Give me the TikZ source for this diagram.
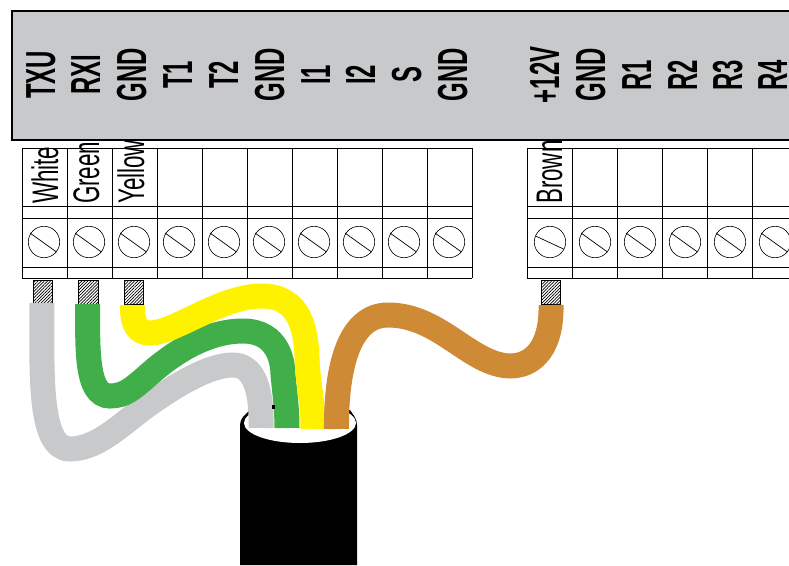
\documentclass[tikz,border=0pt]{standalone}
\usepackage{fontspec}
\setmainfont{Liberation Sans}
\usetikzlibrary{patterns.meta}
\definecolor{panelgray}{HTML}{C8C9CB}
\definecolor{wirewhite}{HTML}{C8C9CB}
\definecolor{wiregreen}{HTML}{40AE49}
\definecolor{wireyellow}{HTML}{FFF200}
\definecolor{wirebrown}{HTML}{CF8A36}
\tikzset{
	pinlabel/.style={rotate=90,xscale=0.57,anchor=base,inner sep=0pt,font=\fontsize{42}{42}\selectfont\bfseries},
	wirelabel/.style={rotate=90,xscale=0.605,anchor=base west,inner sep=0pt,font=\fontsize{37}{37}\selectfont},
	grid line/.style={black,line width=0.8pt},
	strand/.style={pattern={Lines[angle=45,distance=2.2pt,line width=0.7pt]},draw=black,line width=0.7pt},
	wire/.style={line width=25pt}
}
\begin{document}
\begin{tikzpicture}[x=1pt,y=-1pt]
	\clip (0,0) rectangle (789,565);
	% wire names, drawn first so that the panel cuts them
	\node[wirelabel] (white) at (58,204) {White};
	\node[wirelabel] (green) at (99,204) {Green};
	\node[wirelabel] (yellow) at (144,204) {Yellow};
	\node[wirelabel] (brown) at (562,204) {Brown};
	% terminal blocks
	\foreach \y in {148,206,218,267,278}{
		\draw[grid line] (22,\y) -- (472,\y);
		\draw[grid line] (527,\y) -- (800,\y);
	}
	\foreach \x in {22,67,...,472}
		\draw[grid line] (\x,148) -- (\x,278);
	\foreach \x in {527,572,...,797}
		\draw[grid line] (\x,148) -- (\x,278);
	% screws
	\foreach \x in {44,89,...,449,595,640,...,775}{
		\draw[black,line width=0.6pt] (\x,242) circle (15.7);
		\draw[black,line width=0.7pt] (\x-14,233) -- (\x+12.5,252);
	}
	\draw[black,line width=0.6pt] (550,242) circle (15.7);
	\draw[black,line width=0.7pt] (535.5,236) -- (563.5,249);
	% panel
	\draw[fill=panelgray,line width=2.5pt] (12,11) rectangle (810,140);
	\foreach \x/\t/\n in {55/TXU/txu,100/RXI/rxi,146/GND/gnda,192/T1/tone,238/T2/ttwo,284/GND/gndb,330/I1/ione,375/I2/itwo,421/S/sig,467/GND/gndc,559/+12V/vcc,605/GND/gndd,651/R1/rone,697/R2/rtwo,742/R3/rthree,787/R4/rfour}
		\node[pinlabel] (\n) at (\x,75) {\t};
	% bare ends
	\foreach \x in {33,78.7,124,541}
		\draw[strand] (\x,280) rectangle ++(19.5,24);
	% cable
	\fill[black] (240,565) -- (240,425) .. controls (240,418) and (245,415) .. (250,410) -- (350,410) .. controls (353,415) and (357,418) .. (357,425) -- (357,565) -- cycle;
	\fill[white] (300,423) ellipse (56 and 20);
	\fill[white] (252,395) rectangle (348,415);
	% wires
	\draw[wire,wirewhite] (42,303) .. controls (42,370) and (38,449) .. (70,449) .. controls (100,449) and (125,420) .. (155,400) .. controls (180,383) and (210,365) .. (233,365) .. controls (252,365) and (262,385) .. (261,428);
	\draw[wire,wiregreen] (87.5,304) .. controls (88,345) and (85,396) .. (110,396) .. controls (125,396) and (133,388) .. (145,378) .. controls (170,355) and (205,331) .. (243,331) .. controls (280,331) and (283,365) .. (283,375) .. controls (285,395) and (287,410) .. (287,428);
	\draw[wire,wireyellow] (132.5,305) .. controls (132,325) and (138,333) .. (150,333) .. controls (175,333) and (220,296) .. (262,296) .. controls (300,296) and (306,330) .. (307,357) .. controls (308,385) and (313,400) .. (313,429);
	\draw[wire,wirebrown] (551,305) .. controls (552,345) and (535,366) .. (510,366) .. controls (470,365) and (440,315) .. (388,315) .. controls (350,315) and (336,365) .. (336.5,429);
	\fill[black] (272,405) rectangle (275,409);
\end{tikzpicture}
\end{document}
